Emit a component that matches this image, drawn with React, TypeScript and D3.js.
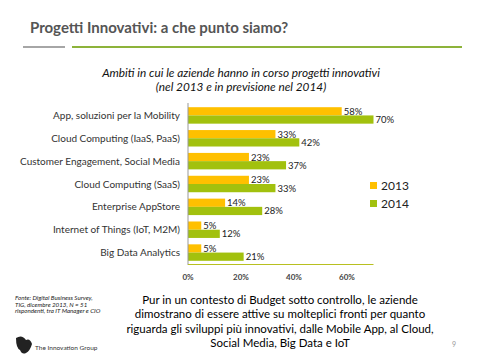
import React, { useEffect, useRef } from "react";
import * as d3 from "d3";

const categories = [
  "App, soluzioni per la Mobility",
  "Cloud Computing (IaaS, PaaS)",
  "Customer Engagement, Social Media",
  "Cloud Computing (SaaS)",
  "Enterprise AppStore",
  "Internet of Things (IoT, M2M)",
  "Big Data Analytics",
];
const series = ["2013", "2014"];
const values2013 = [58, 33, 23, 23, 14, 5, 5];
const values2014 = [70, 42, 37, 33, 28, 12, 21];
const xTicks = [0, 20, 40, 60];
const colors = ["#FFC000", "#A2C10E"];

const bodyLines = [
  "Pur in un contesto di Budget sotto controllo,  le aziende",
  "dimostrano di essere attive su molteplici fronti per quanto",
  "riguarda gli sviluppi più innovativi, dalle Mobile App, al Cloud,",
  "Social Media, Big Data e IoT",
];
const sourceLines = [
  "Fonte: Digital Business Survey,",
  "TIG, dicembre 2013, N = 51",
  "rispondenti, tra IT Manager e CIO",
];

function App() {
  const ref = useRef<SVGSVGElement | null>(null);

  useEffect(() => {
    if (!ref.current) return;
    const svg = d3.select(ref.current);
    svg.selectAll("*").remove();
    const font = "Lato, 'Open Sans', sans-serif";

    svg.append("rect").attr("width", 480).attr("height", 360).attr("fill", "#fff");

    // header
    svg
      .append("text")
      .attr("x", 30)
      .attr("y", 33)
      .attr("font-family", font)
      .attr("font-weight", "bold")
      .attr("font-size", 15)
      .attr("fill", "#555")
      .text("Progetti Innovativi: a che punto siamo?");
    svg.append("line").attr("x1", 23).attr("x2", 65).attr("y1", 47).attr("y2", 47)
      .attr("stroke", "#a6a6a6").attr("stroke-width", 2);
    svg.append("line").attr("x1", 72).attr("x2", 462).attr("y1", 47).attr("y2", 47)
      .attr("stroke", "#8db33a").attr("stroke-width", 2);

    // chart title
    ["Ambiti in cui le aziende hanno in corso progetti innovativi", "(nel 2013 e in previsione nel 2014)"].forEach((t, i) => {
      svg
        .append("text")
        .attr("x", 241)
        .attr("y", 77 + i * 14)
        .attr("text-anchor", "middle")
        .attr("font-family", font)
        .attr("font-style", "italic")
        .attr("font-size", 11.8)
        .attr("fill", "#111")
        .text(t);
    });

    const x = d3.scaleLinear().domain([0, 70]).range([188, 373.5]);
    const y = d3.scaleBand().domain(categories).range([104, 264]).paddingInner(0.28).paddingOuter(0.14);
    const ys = d3.scaleBand().domain(series).range([0, y.bandwidth()]);

    const g = svg.append("g");
    const rows = categories.map((c, i) => ({ c, v: [values2013[i], values2014[i]] }));

    rows.forEach((r) => {
      series.forEach((s, si) => {
        const v = r.v[si];
        g.append("rect")
          .attr("x", x(0))
          .attr("y", (y(r.c) as number) + (ys(s) as number))
          .attr("width", x(v) - x(0))
          .attr("height", ys.bandwidth())
          .attr("fill", colors[si]);
        g.append("text")
          .attr("x", x(v) + 2)
          .attr("y", (y(r.c) as number) + (ys(s) as number) + ys.bandwidth() / 2 + 3.5)
          .attr("font-family", font)
          .attr("font-size", 9.5)
          .attr("fill", "#222")
          .text(`${v}%`);
      });
      g.append("text")
        .attr("x", 180)
        .attr("y", (y(r.c) as number) + y.bandwidth() / 2 + 3.5)
        .attr("text-anchor", "end")
        .attr("font-family", font)
        .attr("font-size", 10)
        .attr("fill", "#333")
        .text(r.c);
    });

    // axes
    svg.append("line").attr("x1", x(0)).attr("x2", x(0)).attr("y1", 103).attr("y2", 265)
      .attr("stroke", "#999").attr("stroke-width", 1);
    svg.append("line").attr("x1", x(0)).attr("x2", x(70)).attr("y1", 264.5).attr("y2", 264.5)
      .attr("stroke", "#b8c020").attr("stroke-width", 1);
    xTicks.forEach((t) => {
      svg.append("text")
        .attr("x", x(t))
        .attr("y", 280)
        .attr("text-anchor", "middle")
        .attr("font-family", font)
        .attr("font-size", 8)
        .attr("font-weight", "bold")
        .attr("fill", "#444")
        .text(`${t}%`);
    });

    // legend
    series.forEach((s, i) => {
      svg.append("rect").attr("x", 370).attr("y", 182 + i * 18).attr("width", 7).attr("height", 7)
        .attr("fill", colors[i]);
      svg.append("text")
        .attr("x", 381)
        .attr("y", 190 + i * 18)
        .attr("font-family", font)
        .attr("font-size", 12)
        .attr("fill", "#222")
        .text(s);
    });

    // footer
    sourceLines.forEach((t, i) => {
      svg.append("text")
        .attr("x", 15)
        .attr("y", 300 + i * 6.5)
        .attr("font-family", font)
        .attr("font-style", "italic")
        .attr("font-size", 6.2)
        .attr("fill", "#222")
        .text(t);
    });
    svg.append("path")
      .attr("d", "M16,338 q6,-4 10,2 q4,-2 6,4 q-2,7 -6,9 q-4,2 -6,-3 q-4,-2 -4,-12 z")
      .attr("fill", "#222");
    svg.append("text")
      .attr("x", 35)
      .attr("y", 350)
      .attr("font-family", font)
      .attr("font-size", 6.5)
      .attr("fill", "#333")
      .text("The Innovation Group");

    bodyLines.forEach((t, i) => {
      svg.append("text")
        .attr("x", 280)
        .attr("y", 304 + i * 14.3)
        .attr("text-anchor", "middle")
        .attr("font-family", font)
        .attr("font-size", 11.5)
        .attr("fill", "#000")
        .text(t);
    });
    svg.append("text").attr("x", 452).attr("y", 347).attr("font-family", font)
      .attr("font-size", 7).attr("fill", "#999").text("9");
  }, []);

  return (
    <svg
      ref={ref}
      width={480}
      height={360}
      style={{ position: "absolute", left: 0, top: 0, display: "block" }}
    />
  );
}

export default App;
